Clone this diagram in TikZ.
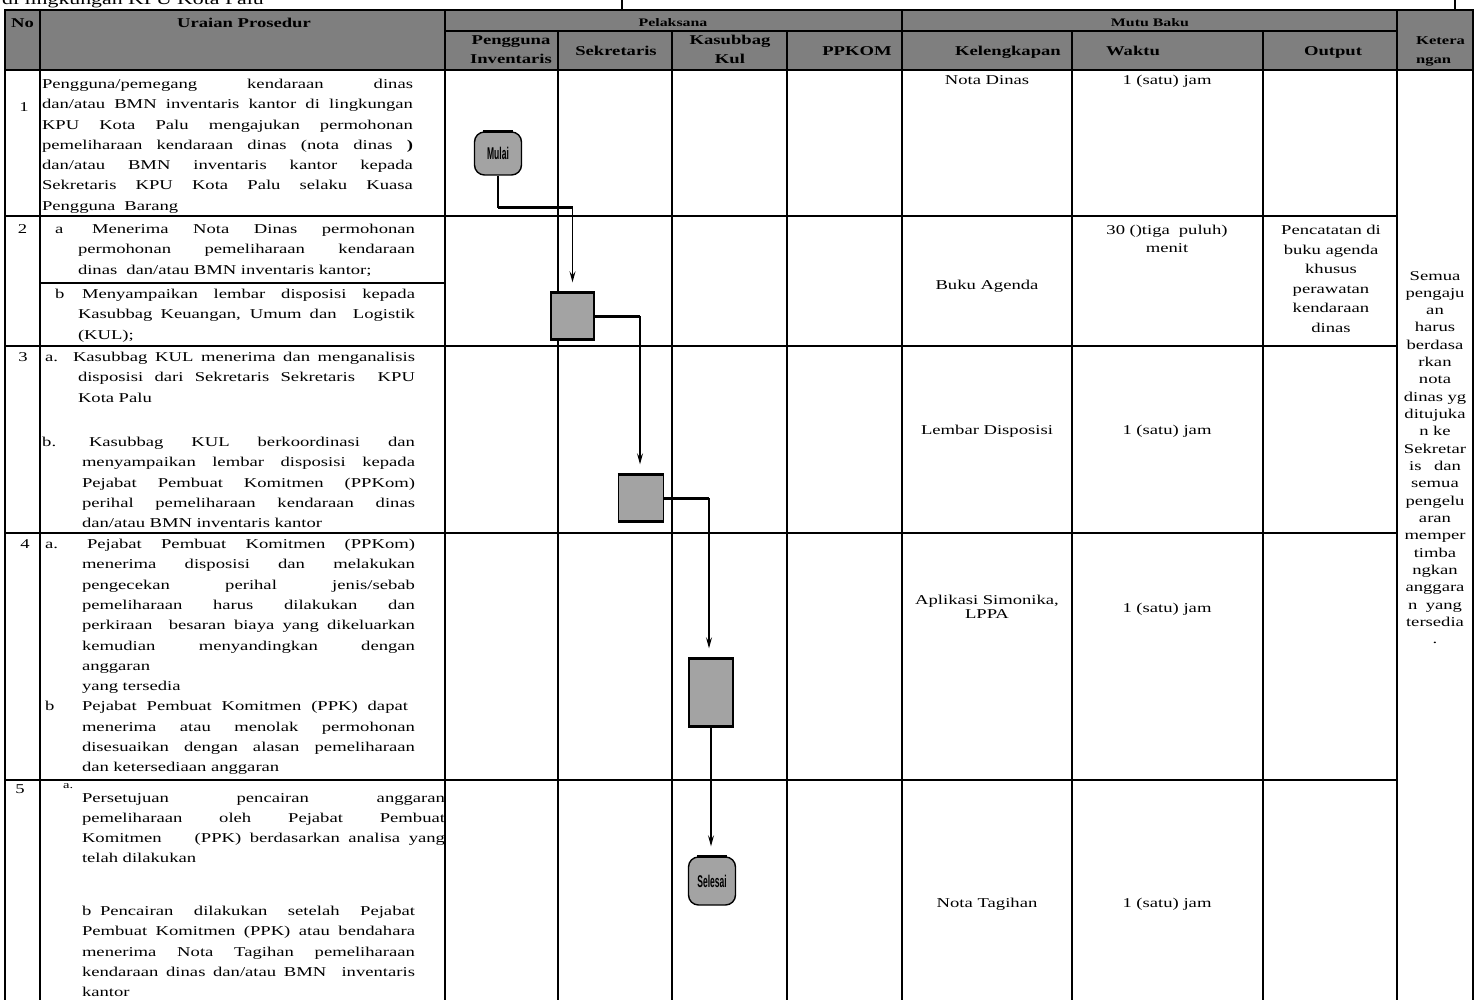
\documentclass[tikz,border=0pt]{standalone}
\usepackage{fontspec}
\setmainfont[FakeStretch=1.38]{Liberation Serif}
\newfontfamily\termfont[FakeStretch=0.5]{Liberation Sans}
\usetikzlibrary{arrows.meta}
\newlength\LW
\newcommand\J[1]{{\spaceskip=\fontdimen2\font plus 20\fontdimen2\font minus 0.2\fontdimen2\font\relax\makebox[\LW][s]{#1}}}
\newcommand\bodyfont{\fontsize{13.5}{20.3}\selectfont}
\newcommand\hdrfont{\fontsize{13.5}{16}\selectfont\bfseries}
\newcommand\STR{\rule{0pt}{11pt}}
\definecolor{hdrgray}{HTML}{7F7F7F}
\definecolor{shapegray}{HTML}{A3A3A3}
\begin{document}
\begin{tikzpicture}[x=1pt,y=-1pt,
  grid/.style={line width=2pt, line cap=rect},
  para/.style={anchor=north west, inner sep=0pt, outer sep=0pt, align=left, font=\bodyfont},
  pw/.style={text width=#1pt, execute at begin node={\setlength{\LW}{#1pt}}},
  lbl/.style={anchor=base west, inner sep=0pt, font=\bodyfont},
  ctr/.style={anchor=base, inner sep=0pt, font=\bodyfont},
  hdr/.style={anchor=base, inner sep=0pt, font=\hdrfont},
  term/.style={draw, line width=1.4pt, fill=shapegray, rounded corners=10pt, minimum width=47pt, inner sep=0pt, font=\termfont\bfseries\fontsize{17}{17}\selectfont},
  proc/.style={draw, line width=1.4pt, fill=shapegray, inner sep=0pt},
  conn/.style={line width=1.3pt},
  hconn/.style={line width=3pt},
  arr/.style={line width=1.3pt, -{Stealth[length=11pt,width=6pt,inset=4pt]}},
  edge3/.style={line width=3pt}
]
\useasboundingbox (0,0) rectangle (1482,1000);
\clip (0,0) rectangle (1482,1000);

% title line (cut off at top, as in the reference)
\node[anchor=base west, inner sep=0pt, font=\fontsize{15.8}{18}\selectfont] (title) at (2,5) {di lingkungan KPU Kota Palu};
\draw[grid] (622,-2) -- (622,10);
\draw[grid] (1455,-2) -- (1455,10);

% header background
\fill[hdrgray] (5,10) rectangle (1473,70);

% grid
\draw[grid] (5,10) -- (1473,10);
\draw[grid] (445,31) -- (1397,31);
\draw[grid] (5,70) -- (1473,70);
\foreach \yy in {216,346,533,780} \draw[grid] (5,\yy) -- (1397,\yy);
\draw[grid] (40,283) -- (445,283);
\foreach \xx in {5,40,445,902,1397,1473} \draw[grid] (\xx,10) -- (\xx,1002);
\foreach \xx in {558,672,787,1072,1263} \draw[grid] (\xx,31) -- (\xx,1002);

% header texts
\node[hdr] (hno) at (22.5,28) {No};
\node[hdr] (hur) at (244,28) {Uraian Prosedur};
\node[hdr, font=\fontsize{11.5}{13}\selectfont\bfseries] (hpel) at (673,26.5) {Pelaksana};
\node[hdr, font=\fontsize{11.5}{13}\selectfont\bfseries] (hmb) at (1150,26.5) {Mutu Baku};
\node[hdr] (hpg1) at (511,45) {Pengguna};
\node[hdr] (hpg2) at (511,64) {Inventaris};
\node[hdr] (hsek) at (616,56) {Sekretaris};
\node[hdr] (hks1) at (730,45) {Kasubbag};
\node[hdr] (hks2) at (730,64) {Kul};
\node[hdr] (hppk) at (857,56) {PPKOM};
\node[hdr] (hkel) at (1008,56) {Kelengkapan};
\node[hdr] (hwak) at (1133,56) {Waktu};
\node[hdr] (hout) at (1333,56) {Output};
\node[hdr, anchor=base west, font=\fontsize{12}{14}\selectfont\bfseries] (hket1) at (1416,45) {Ketera};
\node[hdr, anchor=base west, font=\fontsize{12}{14}\selectfont\bfseries] (hket2) at (1416,64) {ngan};

% row numbers
\node[ctr] (n1) at (24,112) {1};
\node[ctr] (n2) at (22.5,233.5) {2};
\node[ctr] (n3) at (23,361.5) {3};
\node[ctr] (n4) at (25,548.5) {4};
\node[ctr] (n5) at (20,793.5) {5};

% row 1
\node[para, pw=371] (u1) at (42,77.5) {\noindent\STR\J{Pengguna/pemegang kendaraan dinas}\\
\J{dan/atau BMN inventaris kantor di lingkungan}\\
\J{KPU Kota Palu mengajukan permohonan}\\
\J{pemeliharaan kendaraan dinas (nota dinas \textbf{)}}\\
\J{dan/atau BMN inventaris kantor kepada}\\
\J{Sekretaris KPU Kota Palu selaku Kuasa}\\
Pengguna~~Barang};

% row 2
\node[lbl] (l2a) at (55,233.5) {a};
\node[para, pw=337] (u2a) at (78,222.5) {\noindent\STR\J{\hspace*{14pt}Menerima Nota Dinas permohonan}\\
\J{permohonan pemeliharaan kendaraan}\\
dinas~~dan/atau BMN inventaris kantor;};
\node[lbl] (l2b) at (55,298.5) {b};
\node[para, pw=337] (u2b) at (78,287.5) {\noindent\STR\J{\hspace*{4pt}Menyampaikan lembar disposisi kepada}\\
\J{Kasubbag Keuangan, Umum dan~~Logistik}\\
(KUL);};

% row 3
\node[lbl] (l3a) at (45,361.5) {a.};
\node[para, pw=337] (u3a) at (78,350.5) {\noindent\STR\J{\hspace*{-5pt}Kasubbag KUL menerima dan menganalisis}\\
\J{disposisi dari Sekretaris Sekretaris~~KPU}\\
Kota Palu};
\node[lbl] (l3b) at (42,446.5) {b.};
\node[para, pw=333] (u3b) at (82,435.5) {\noindent\STR\J{\hspace*{7pt}Kasubbag KUL berkoordinasi dan}\\
\J{menyampaikan lembar disposisi kepada}\\
\J{Pejabat Pembuat Komitmen (PPKom)}\\
\J{perihal pemeliharaan kendaraan dinas}\\
dan/atau BMN inventaris kantor};

% row 4
\node[lbl] (l4a) at (45,548.5) {a.};
\node[para, pw=333] (u4) at (82,537.5) {\noindent\STR\J{\hspace*{5pt}Pejabat Pembuat Komitmen (PPKom)}\\
\J{menerima disposisi dan melakukan}\\
\J{pengecekan perihal jenis/sebab}\\
\J{pemeliharaan harus dilakukan dan}\\
\J{perkiraan~~besaran biaya yang dikeluarkan}\\
\J{kemudian menyandingkan dengan}\\
anggaran\\
yang tersedia\\
{\setlength{\LW}{326pt}\J{Pejabat Pembuat Komitmen (PPK) dapat}}\\
\J{menerima atau menolak permohonan}\\
\J{disesuaikan dengan alasan pemeliharaan}\\
dan ketersediaan anggaran};
\node[lbl] (l4b) at (45,710.9) {b};

% row 5
\node[lbl, font=\fontsize{10.5}{12}\selectfont] (l5a) at (63,788) {a.};
\node[para, pw=363] (u5a) at (82,791) {\noindent\STR\J{Persetujuan pencairan anggaran}\\
\J{pemeliharaan oleh Pejabat Pembuat}\\
\J{Komitmen\hspace*{33pt}(PPK) berdasarkan analisa yang}\\
telah dilakukan};
\node[lbl] (l5b) at (82,915.5) {b};
\node[para, pw=333] (u5b) at (82,904.5) {\noindent\STR\J{\hspace*{18pt}Pencairan dilakukan setelah Pejabat}\\
\J{Pembuat Komitmen (PPK) atau bendahara}\\
\J{menerima Nota Tagihan pemeliharaan}\\
\J{kendaraan dinas dan/atau BMN~~inventaris}\\
kantor};

% Mutu baku
\node[ctr] (k1) at (987,85) {Nota Dinas};
\node[ctr] (w1) at (1167,85) {1 (satu) jam};
\node[para, anchor=north, text width=180pt, align=center, font=\fontsize{13.5}{18.5}\selectfont] (w2) at (1167,223.5) {\STR 30 ()tiga~~puluh)\\menit};
\node[ctr] (k2) at (987,289) {Buku Agenda};
\node[para, anchor=north, text width=130pt, align=center, font=\fontsize{13.5}{19.6}\selectfont] (o2) at (1331,223.5) {\STR Pencatatan di\\buku agenda\\khusus\\perawatan\\kendaraan\\dinas};
\node[ctr] (k3) at (987,434) {Lembar Disposisi};
\node[ctr] (w3) at (1167,434) {1 (satu) jam};
\node[para, anchor=north, text width=165pt, align=center, font=\fontsize{13.5}{14.5}\selectfont] (k4) at (987,593) {\STR Aplikasi Simonika,\\LPPA};
\node[ctr] (w4) at (1167,612) {1 (satu) jam};
\node[ctr] (k5) at (987,907) {Nota Tagihan};
\node[ctr] (w5) at (1167,907) {1 (satu) jam};

% Keterangan
\node[para, anchor=north, text width=76pt, align=center, font=\fontsize{13.5}{17.33}\selectfont] (ket) at (1435,269) {\STR Semua\\pengaju\\an\\harus\\berdasa\\rkan\\nota\\dinas yg\\ditujuka\\n ke\\Sekretar\\is\hspace{8pt} dan\\semua\\pengelu\\aran\\memper\\timba\\ngkan\\anggara\\n\hspace{4pt} yang\\tersedia\\.};

% flowchart shapes
\node[term, minimum height=43pt] (mulai) at (498,153.5) {Mulai};
\draw[edge3] ([xshift=9pt]mulai.north west) -- ([xshift=-9pt]mulai.north east);
\node[proc, minimum width=43pt, minimum height=46pt] (b1) at (572.5,316) {};
\node[proc, minimum width=45pt, minimum height=46pt] (b2) at (641,498) {};
\node[proc, minimum width=44pt, minimum height=67pt] (b3) at (711,692.5) {};
\node[term, minimum height=48pt] (selesai) at (712,881) {Selesai};
\draw[edge3] ([xshift=9pt]selesai.north west) -- ([xshift=-9pt]selesai.north east);
\foreach \b in {b1,b2,b3} {
  \draw[edge3] (\b.north west) -- (\b.north east);
  \draw[edge3] (\b.south west) -- (\b.south east);
}

% connectors
\coordinate (j1) at (498,208);
\coordinate (j2) at (572.5,208);
\draw[conn] (mulai.south) -- (j1);
\draw[hconn] (j1) -- (j2);
\draw[arr] (j2) -- ([yshift=10pt]b1.north);

\coordinate (j3) at (640,316);
\draw[hconn] (b1.east) -- (j3);
\draw[arr] (j3) -- ([yshift=10pt]j3 |- b2.north);

\coordinate (j4) at (709,498);
\draw[hconn] (b2.east) -- (j4);
\draw[arr] (j4) -- ([yshift=10pt]j4 |- b3.north);

\draw[arr] (b3.south) -- ([yshift=10pt]b3.south |- selesai.north);
\end{tikzpicture}
\end{document}
